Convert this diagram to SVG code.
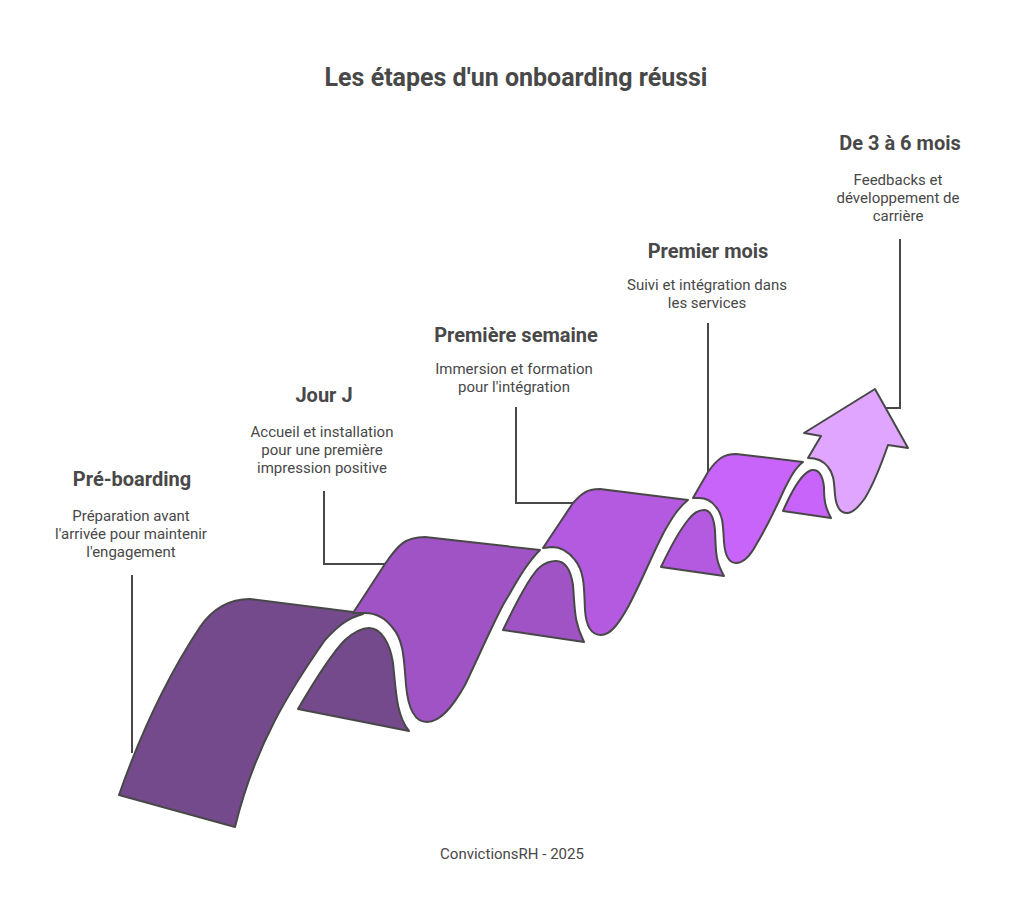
<svg xmlns="http://www.w3.org/2000/svg" width="1032" height="915" viewBox="0 0 1032 915">
<style>
text{font-family:Roboto,"Liberation Sans",sans-serif;fill:#484848;text-anchor:middle}
.t{font-size:25px;font-weight:700}
.h{font-size:20px;font-weight:700}
.d{font-size:15px}
.c{fill:none;stroke:#484848;stroke-width:2}
.s{stroke:#484848;stroke-width:2;stroke-linejoin:round}
.p1{fill:#754a8c}.p2{fill:#a053c4}.p3{fill:#b45ae0}.p4{fill:#c964fb}.p5{fill:#e0a6ff}
</style>
<rect width="1032" height="915" fill="#fff"/>
<text class="t" x="516" y="86">Les étapes d'un onboarding réussi</text>
<g id="connectors">
<path class="c" d="M132 575V753"/>
<path class="c" d="M324 491V564H385"/>
<path class="c" d="M516 407V503H573"/>
<path class="c" d="M708 323V473"/>
<path class="c" d="M900 239V408H886"/>
</g>
<g id="step1">
<path class="s p1" d="M119 795C140 735 165 680 200 627C211 611 226 599 250 599L353 612L363 614C347 618 336 628 325 640C290 690 255 745 235 827Z"/>
<path class="s p1" d="M298 709C315 680 333 652 345 640C354 632 362 628 369 628C381 628 390 643 393 663C396 690 396 715 409 731Z"/>
<text class="h" x="132" y="486">Pré-boarding</text>
<text class="d" x="131" y="521">Préparation avant</text>
<text class="d" x="131" y="539">l'arrivée pour maintenir</text>
<text class="d" x="131" y="557">l'engagement</text>
</g>
<g id="step2">
<path class="s p2" d="M353 613L385 564C398 545 405 537 425 537L540 550C525 565 515 585 503 605C490 630 478 658 465 685C452 708 440 722 427 722C414 722 408 708 406 685C404 660 404 640 392 627C385 618 375 613 365 613Z"/>
<path class="s p2" d="M503 630C515 605 530 575 540 567C546 562 551 561 556 561C566 561 571 572 573 585C575 610 574 622 584 642Z"/>
<text class="h" x="324" y="402">Jour J</text>
<text class="d" x="322" y="437">Accueil et installation</text>
<text class="d" x="322" y="455">pour une première</text>
<text class="d" x="322" y="473">impression positive</text>
</g>
<g id="step3">
<path class="s p3" d="M543 548L573 503C583 492 588 489 600 489L688 500C678 508 672 518 664 532C652 555 640 585 628 607C618 625 610 635 601 635C591 635 586 625 585 610C584 590 585 572 575 560C568 551 560 547 552 547Z"/>
<path class="s p3" d="M661 567C670 548 680 530 688 520C694 512 700 510 704 510C711 510 714 520 715 530C716 552 715 560 724 576Z"/>
<text class="h" x="516" y="342">Première semaine</text>
<text class="d" x="514" y="374">Immersion et formation</text>
<text class="d" x="514" y="392">pour l'intégration</text>
</g>
<g id="step4">
<path class="s p4" d="M693 498L708 472C718 458 724 454 736 454L803 462C795 468 790 478 784 490C775 510 765 530 756 545C750 556 743 563 736 563C728 563 725 555 724 542C723 525 723 515 716 507C711 500 705 498 699 498Z"/>
<path class="s p4" d="M783 511C790 495 797 482 804 475C808 471 811 470 813 470C820 470 823 478 824 487C824 500 825 507 831 518Z"/>
<text class="h" x="708" y="258">Premier mois</text>
<text class="d" x="707" y="290">Suivi et intégration dans</text>
<text class="d" x="707" y="308">les services</text>
</g>
<g id="step5">
<path class="s p5" d="M808 458L821 436L804 433L875 389L908 448L888 445C880 468 873 485 865 498C858 508 852 513 847 513C839 513 836 505 835 495C834 482 834 474 828 467C823 460 817 458 808 458Z"/>
<text class="h" x="900" y="150">De 3 à 6 mois</text>
<text class="d" x="898" y="185">Feedbacks et</text>
<text class="d" x="898" y="203">développement de</text>
<text class="d" x="898" y="221">carrière</text>
</g>
<text class="d" x="512" y="859">ConvictionsRH - 2025</text>
</svg>
